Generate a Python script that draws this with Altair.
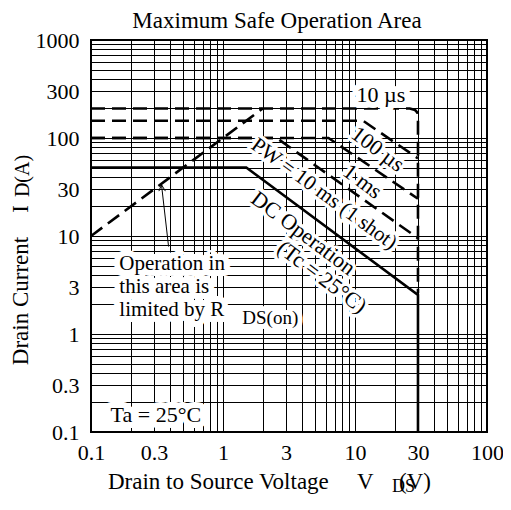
import altair as alt
import pandas as pd

FONT = "Liberation Serif"

# ---- axis grid / label values ----
x_grid = [0.1, 0.2, 0.3, 0.4, 0.5, 0.6, 0.7, 0.8, 0.9,
          1, 2, 3, 4, 5, 6, 7, 8, 9,
          10, 20, 30, 40, 50, 60, 70, 80, 90, 100]
y_grid = [0.1, 0.2, 0.3, 0.4, 0.5, 0.6, 0.7, 0.8, 0.9,
          1, 2, 3, 4, 5, 6, 7, 8, 9,
          10, 20, 30, 40, 50, 60, 70, 80, 90,
          100, 200, 300, 400, 500, 600, 700, 800, 900, 1000]
x_labels = [0.1, 0.3, 1, 3, 10, 30, 100]
y_labels = [0.1, 0.3, 1, 3, 10, 30, 100, 300, 1000]

# ---- SOA boundary curves (V_DS in V, I_D in A) ----
rds_v = [0.1, 2.0]
rds_i = [10, 200]
us10_v = [0.1, 26, 28.5, 29.7, 30, 30]
us10_i = [200, 200, 193, 182, 165, 2.6]
us100_v = [0.1, 11.5, 30]
us100_i = [150, 150, 62]
ms1_v = [0.1, 6.3, 30]
ms1_i = [100, 100, 24]
ms10_v = [0.1, 2.55, 30]
ms10_i = [100, 100, 9.5]
dc_v = [0.1, 1.5, 30, 30]
dc_i = [50, 50, 2.5, 0.1]

# ---- annotation arrow (pointing at the R_DS(on) line) ----
arrow_shaft_v = [0.387, 0.342]
arrow_shaft_i = [7.8, 33.4]
arrow_head_v = [0.327, 0.342, 0.366]
arrow_head_i = [28.7, 33.4, 28.7]

# ---- in-plot annotation texts and anchors (data units) ----
ann_text = ["10 µs", "100 µs", "1 ms", "PW = 10 ms (1 shot)", "DC Operation",
            "(Tc = 25°C)", "Ta = 25°C"]
ann_v = [15.7, 14.9, 11.4, 5.82, 4.06, 5.62, 0.31]
ann_i = [277, 76.9, 36.1, 26.8, 10.7, 3.82, 0.148]
ann_angle = [0, 37, 37, 36, 37, 37, 0]
ann_size = [22, 22, 22, 21, 22, 22, 22]
ann_halo = [12, 7, 7, 7, 7, 7, 12]

block_text = ["Operation in", "this area is", "limited by R"]
block_v = [0.164, 0.164, 0.164]
block_i = [5.2, 3.04, 1.74]
sub_text = ["DS(on)"]
sub_v = [1.40]
sub_i = [1.46]


def series(name, vs, is_):
    return pd.DataFrame({"s": name, "k": list(range(len(vs))), "V": vs, "I": is_})


dashed_df = pd.concat([
    series("rds", rds_v, rds_i),
    series("10us", us10_v, us10_i),
    series("100us", us100_v, us100_i),
    series("1ms", ms1_v, ms1_i),
    series("10ms", ms10_v, ms10_i),
], ignore_index=True)
solid_df = series("dc", dc_v, dc_i)
arrow_df = pd.concat([
    series("shaft", arrow_shaft_v, arrow_shaft_i),
    series("head", arrow_head_v, arrow_head_i),
], ignore_index=True)


def label_expr(vals):
    arr = ",".join(repr(v) for v in vals)
    return f"indexof([{arr}], datum.value) >= 0 ? datum.label : ''"


common_axis = dict(
    title=None, grid=True, gridColor="black", gridOpacity=1, gridWidth=1,
    ticks=False, tickSize=0, domain=False, labelFont=FONT, labelFontSize=22,
    labelColor="black", labelOverlap=False, labelFlush=False, labelBound=False,
    format="~g",
)

X = alt.X("V:Q", scale=alt.Scale(type="log", domain=[0.1, 100]),
          axis=alt.Axis(values=x_grid, labelExpr=label_expr(x_labels),
                        labelPadding=10, **common_axis))
Y = alt.Y("I:Q", scale=alt.Scale(type="log", domain=[0.1, 1000]),
          axis=alt.Axis(values=y_grid, labelExpr=label_expr(y_labels),
                        labelPadding=12, **common_axis))

layers = []
layers.append(alt.Chart(dashed_df).mark_line(
    color="black", strokeWidth=2.6, strokeDash=[14, 7], clip=True
).encode(x=X, y=Y, detail="s:N", order="k:Q"))
layers.append(alt.Chart(solid_df).mark_line(
    color="black", strokeWidth=2.6, clip=True
).encode(x=X, y=Y, detail="s:N", order="k:Q"))
layers.append(alt.Chart(arrow_df).mark_line(
    color="black", strokeWidth=1
).encode(x=X, y=Y, detail="s:N", order="k:Q"))


def data_label(texts, vs, is_, angle=0, size=22, align="center", halo=8):
    d = pd.DataFrame({"V": vs, "I": is_, "t": texts})
    base = alt.Chart(d).encode(x=X, y=Y, text="t:N")
    h = base.mark_text(font=FONT, fontSize=size, angle=angle, align=align,
                       baseline="middle", fill="white", stroke="white",
                       strokeWidth=halo, strokeJoin="round", opacity=1)
    txt = base.mark_text(font=FONT, fontSize=size, angle=angle, align=align,
                         baseline="middle", color="black")
    return [h, txt]


for t, v, i, a, s, hw in zip(ann_text, ann_v, ann_i, ann_angle, ann_size, ann_halo):
    layers += data_label([t], [v], [i], angle=a, size=s, halo=hw)
layers += data_label(block_text, block_v, block_i, size=21, align="left", halo=12)
layers += data_label(sub_text, sub_v, sub_i, size=19, align="left", halo=10)

# ---- title and axis titles (positioned relative to the plot area) ----
OX, OY = 91, 40


def page_text(text, px, py, size=23, angle=0, align="left", baseline="alphabetic"):
    return alt.Chart(pd.DataFrame({"t": [text]})).mark_text(
        font=FONT, fontSize=size, angle=angle, align=align, baseline=baseline,
        color="black"
    ).encode(x=alt.value(px - OX), y=alt.value(py - OY), text="t:N")


layers.append(page_text("Maximum Safe Operation Area", 277, 28, align="center"))
layers.append(page_text("Drain to Source Voltage", 108, 489))
layers.append(page_text("V", 357, 489))
layers.append(page_text("DS", 392, 492, size=18))
layers.append(page_text("(V)", 399, 489))
layers.append(page_text("Drain Current", 21, 301, angle=270, align="center", baseline="middle"))
layers.append(page_text("I", 21, 209, angle=270, align="center", baseline="middle"))
layers.append(page_text("D(A)", 23, 176, size=20, angle=270, align="center", baseline="middle"))

chart = alt.layer(*layers).properties(
    width=396, height=392,
    autosize=alt.AutoSizeParams(type="none"),
    padding={"left": 83, "top": 32, "right": 16, "bottom": 65},
).configure_view(stroke="black", strokeWidth=2)

chart.save("out.html", embed_options={"renderer": "svg", "actions": False})
